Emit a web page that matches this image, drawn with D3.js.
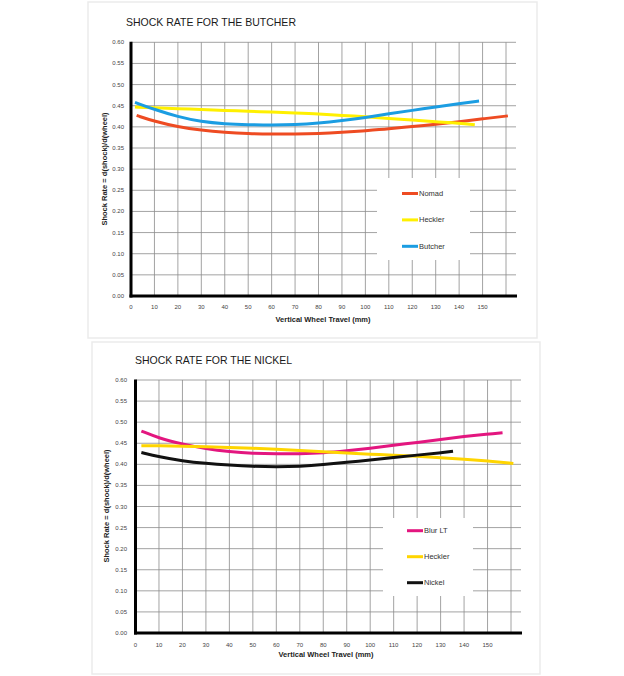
<!DOCTYPE html>
<html><head><meta charset="utf-8">
<script src="https://cdn.jsdelivr.net/npm/d3@7"></script>
<style>
html,body{margin:0;padding:0;background:#fff;}
svg{display:block;}
</style></head>
<body>
<script>
// ---------- DATA ----------
const xTicks = [0,10,20,30,40,50,60,70,80,90,100,110,120,130,140,150];
const xGrid = [10,20,30,40,50,60,70,80,90,100,110,120,130,140,150,160];
const yTicks = [0,0.05,0.10,0.15,0.20,0.25,0.30,0.35,0.40,0.45,0.50,0.55,0.60];

// Top chart: Butcher
const nomadX  = [2.4,10,20,30,40,50,60,70,80,90,100,110,120,130,140,150,160.8];
const nomadY  = [0.427,0.413,0.400,0.392,0.387,0.384,0.383,0.383,0.384,0.387,0.391,0.395,0.401,0.406,0.412,0.419,0.426];
const heckler1X = [1.7,10,20,30,40,50,60,70,80,90,100,110,120,130,140,146.7];
const heckler1Y = [0.447,0.445,0.443,0.441,0.439,0.437,0.435,0.433,0.431,0.427,0.424,0.420,0.416,0.412,0.409,0.405];
const butcherX = [1.7,10,20,30,40,50,60,70,80,90,100,110,120,130,140,148.5];
const butcherY = [0.458,0.441,0.424,0.412,0.407,0.405,0.404,0.405,0.409,0.415,0.422,0.431,0.439,0.447,0.455,0.461];

// Bottom chart: Nickel
const blurX = [2.5,10,20,30,40,50,60,70,80,90,100,110,120,130,140,150,156.4];
const blurY = [0.479,0.462,0.448,0.437,0.430,0.426,0.425,0.425,0.427,0.432,0.438,0.445,0.452,0.459,0.466,0.472,0.475];
const heckler2X = [2.5,10,20,30,40,50,60,70,80,90,100,110,120,130,140,150,161];
const heckler2Y = [0.444,0.444,0.443,0.442,0.440,0.438,0.436,0.433,0.430,0.427,0.424,0.422,0.419,0.416,0.412,0.408,0.402];
const nickelX = [2.5,10,20,30,40,50,60,70,80,90,100,110,120,130,135.3];
const nickelY = [0.428,0.418,0.408,0.402,0.398,0.395,0.394,0.395,0.399,0.405,0.410,0.416,0.422,0.427,0.431];

const zip = (xs, ys) => xs.map((x,i)=>({x, y: ys[i]}));

const charts = [
  {
    title: "SHOCK RATE FOR THE BUTCHER",
    panel: {x:88, y:2, w:449, h:336},
    titlePos: {x:126, y:26},
    x0: 131, x160: 506, xEnd: 517,
    yTop: 42.3, yBottom: 296,
    legendBox: {x:377, y:178, w:93, h:82},
    legendLineX: 402, legendY0: 193.5, legendStep: 26.4,
    yLabelPos: {x:107, y:169},
    xLabelPos: {x:323, y:322},
    tickLabelRight: 124, xTickY: 309,
    series: [
      {name:"Nomad",   color:"#ee4b22", data: zip(nomadX, nomadY)},
      {name:"Heckler", color:"#fff000", data: zip(heckler1X, heckler1Y)},
      {name:"Butcher", color:"#1b9de2", data: zip(butcherX, butcherY)}
    ]
  },
  {
    title: "SHOCK RATE FOR THE NICKEL",
    panel: {x:92, y:342, w:448, h:332},
    titlePos: {x:135, y:363.5},
    x0: 135.5, x160: 511, xEnd: 522,
    yTop: 380, yBottom: 633,
    legendBox: {x:383, y:518, w:90, h:78},
    legendLineX: 407, legendY0: 530.7, legendStep: 26,
    yLabelPos: {x:109, y:506},
    xLabelPos: {x:326, y:657},
    tickLabelRight: 127, xTickY: 647,
    series: [
      {name:"Blur LT", color:"#e3167f", data: zip(blurX, blurY)},
      {name:"Heckler", color:"#ffd500", data: zip(heckler2X, heckler2Y)},
      {name:"Nickel",  color:"#111111", data: zip(nickelX, nickelY)}
    ]
  }
];

// ---------- DRAW ----------
const svg = d3.select("body").append("svg").attr("width",624).attr("height",676);
svg.append("rect").attr("width",624).attr("height",676).attr("fill","#fff");

const narrow = "'Liberation Sans Narrow','Arial Narrow','Liberation Sans',sans-serif";

charts.forEach(c => {
  const g = svg.append("g");
  // faint panel border
  g.append("rect").attr("x",c.panel.x).attr("y",c.panel.y).attr("width",c.panel.w).attr("height",c.panel.h)
    .attr("fill","#fff").attr("stroke","#ebebeb").attr("stroke-width",1.5);

  const x = d3.scaleLinear().domain([0,160]).range([c.x0, c.x160]);
  const y = d3.scaleLinear().domain([0,0.6]).range([c.yBottom, c.yTop]);
  const xMax = x.invert(c.xEnd);

  // title
  g.append("text").attr("x",c.titlePos.x).attr("y",c.titlePos.y)
    .attr("font-family","'Liberation Sans',Arial,sans-serif").attr("font-size",10.5)
    .attr("fill","#1a1a1a").text(c.title);

  // grid
  const grid = g.append("g").attr("stroke","#8c8c8c").attr("stroke-width",0.8);
  grid.selectAll("line.h").data(yTicks.filter(v=>v>0)).join("line")
    .attr("x1",x(0)).attr("x2",x(xMax)-1)
    .attr("y1",d=>y(d)).attr("y2",d=>y(d));
  grid.selectAll("line.v").data(xGrid).join("line")
    .attr("x1",d=>x(d)).attr("x2",d=>x(d))
    .attr("y1",y(0.6)).attr("y2",y(0));

  // legend box (covers grid)
  g.append("rect").attr("x",c.legendBox.x).attr("y",c.legendBox.y)
    .attr("width",c.legendBox.w).attr("height",c.legendBox.h).attr("fill","#fff");

  // y tick labels
  g.append("g").selectAll("text").data(yTicks).join("text")
    .attr("x",c.tickLabelRight).attr("y",d=>y(d)+2)
    .attr("text-anchor","end").attr("font-family",narrow).attr("font-size",6)
    .attr("fill","#444").text(d=>d3.format(".2f")(d));
  // x tick labels
  g.append("g").selectAll("text").data(xTicks).join("text")
    .attr("x",d=>x(d)).attr("y",c.xTickY)
    .attr("text-anchor","middle").attr("font-family",narrow).attr("font-size",6)
    .attr("fill","#444").text(d=>d);

  // axis labels
  g.append("text").attr("x",c.xLabelPos.x).attr("y",c.xLabelPos.y)
    .attr("text-anchor","middle").attr("font-family",narrow).attr("font-weight","bold")
    .attr("font-size",7.5).attr("fill","#222").text("Vertical Wheel Travel (mm)");
  g.append("text").attr("transform",`translate(${c.yLabelPos.x},${c.yLabelPos.y}) rotate(-90)`)
    .attr("text-anchor","middle").attr("font-family",narrow).attr("font-weight","bold")
    .attr("font-size",7.5).attr("fill","#222").text("Shock Rate = d(shock)/d(wheel)");

  // series
  const line = d3.line().x(d=>x(d.x)).y(d=>y(d.y)).curve(d3.curveBasis);
  c.series.forEach(s => {
    g.append("path").datum(s.data).attr("d",line)
      .attr("fill","none").attr("stroke",s.color).attr("stroke-width",3)
      .attr("stroke-linecap","butt");
  });

  // axes (thick black)
  g.append("line").attr("x1",x(0)).attr("x2",x(0)).attr("y1",y(0.6)-0.5).attr("y2",y(0)+1.5)
    .attr("stroke","#000").attr("stroke-width",3);
  g.append("line").attr("x1",x(0)-1.5).attr("x2",x(xMax)).attr("y1",y(0)).attr("y2",y(0))
    .attr("stroke","#000").attr("stroke-width",3);

  // legend
  const lg = g.append("g");
  c.series.forEach((s,i) => {
    const ly = c.legendY0 + i*c.legendStep;
    lg.append("line").attr("x1",c.legendLineX).attr("x2",c.legendLineX+16)
      .attr("y1",ly).attr("y2",ly).attr("stroke",s.color).attr("stroke-width",3);
    lg.append("text").attr("x",c.legendLineX+17).attr("y",ly+2.5)
      .attr("font-family",narrow).attr("font-size",7.5).attr("fill","#333").text(s.name);
  });
});
</script>
</body></html>
